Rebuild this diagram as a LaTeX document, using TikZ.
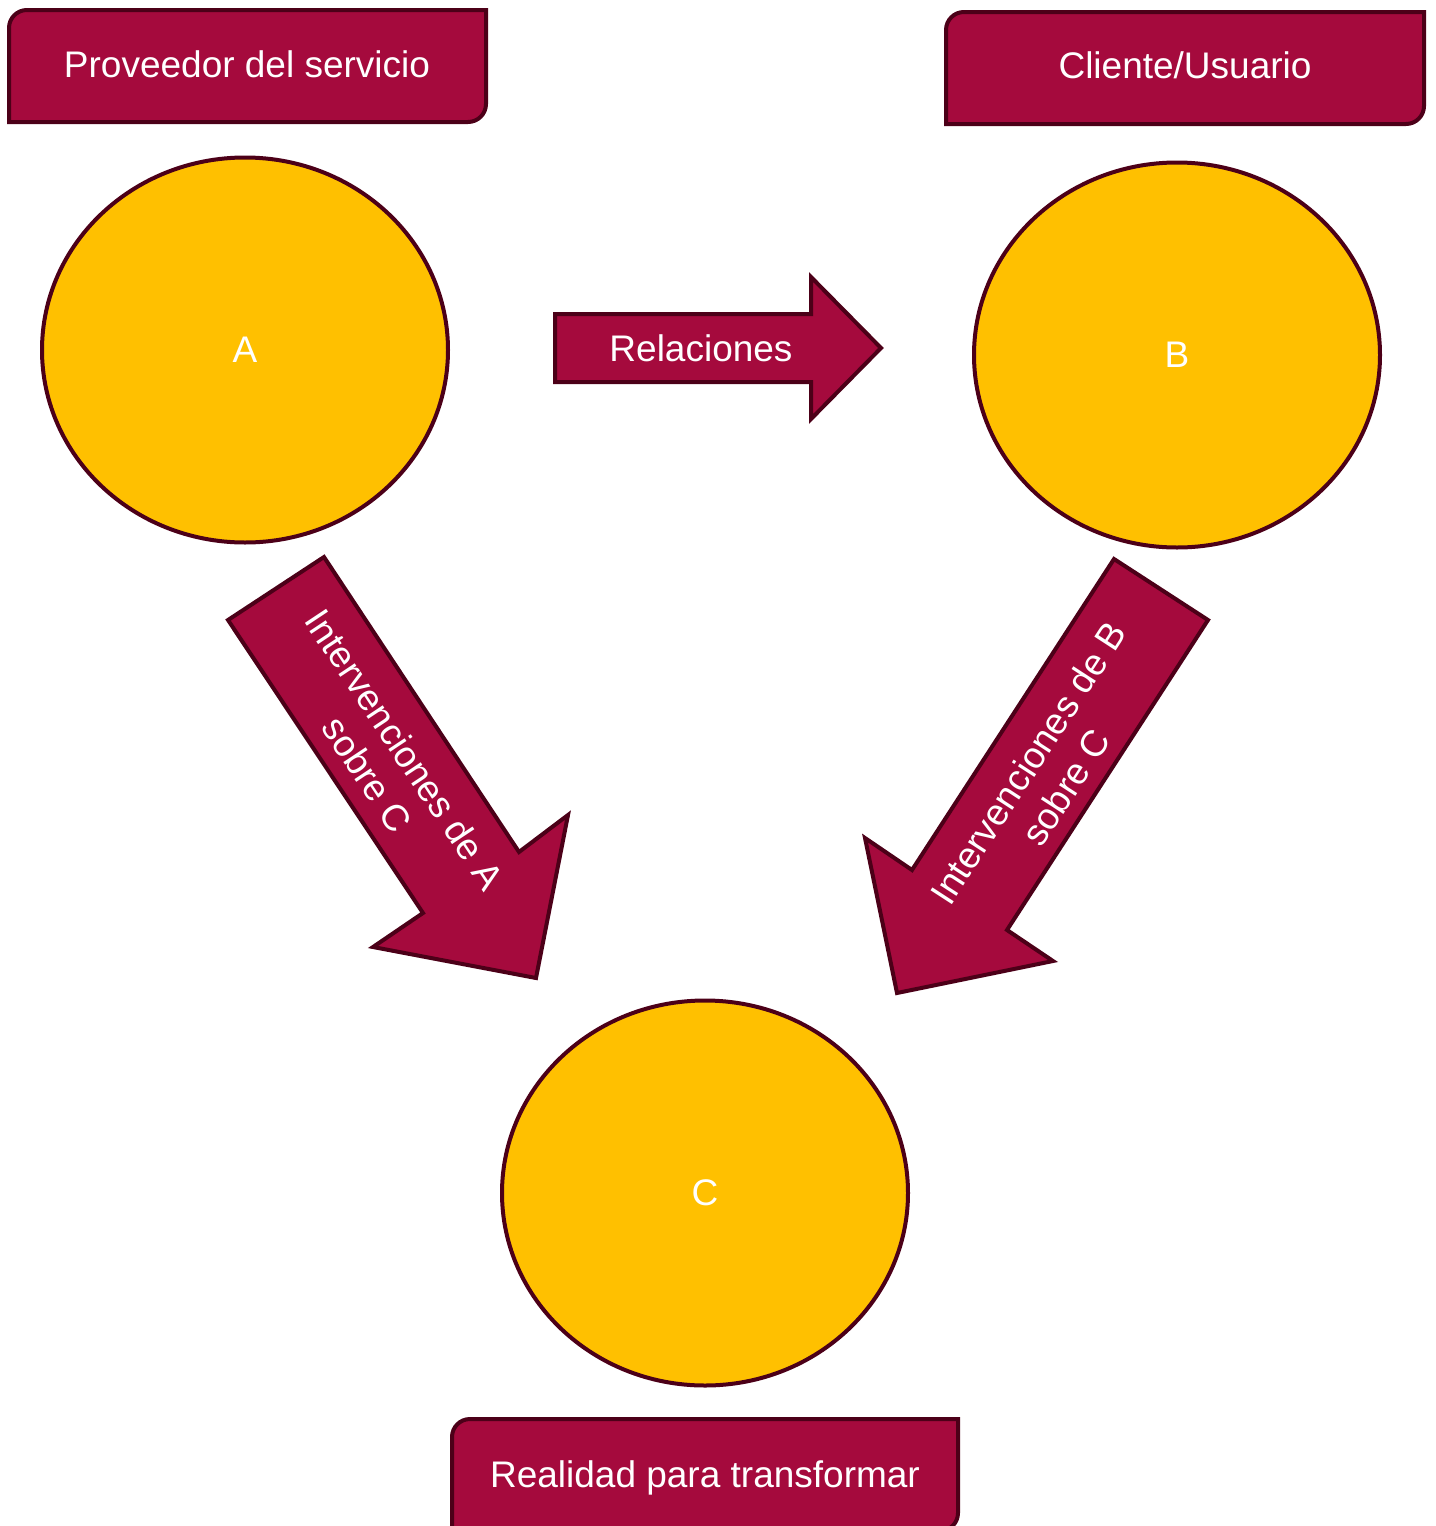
\documentclass[tikz,border=0pt]{standalone}
\usepackage{fontspec}
\setmainfont{Liberation Sans}
\usetikzlibrary{shapes.geometric}
\definecolor{vino}{HTML}{A50A3D}
\definecolor{borde}{HTML}{4C0018}
\definecolor{ambar}{HTML}{FFC000}
\tikzset{
  circulo/.style={ellipse, draw=borde, fill=ambar, line width=4pt,
    minimum width=406pt, minimum height=385pt, inner sep=0pt,
    text=white, font=\fontsize{37}{44}\selectfont},
  caja/.style={draw=borde, fill=vino, line width=4pt, line join=miter},
  rotulo/.style={text=white, font=\fontsize{37}{45}\selectfont,
    align=center, inner sep=0pt},
}
\begin{document}
\begin{tikzpicture}[x=1pt,y=-1pt]
\useasboundingbox (0,0) rectangle (1435,1526);

% etiquetas
\draw[caja] (9,66) [rounded corners=18pt] -- (9,10) [sharp corners] -- (486,10)
  [rounded corners=18pt] -- (486,122) [sharp corners] -- (9,122) -- cycle;
\node[rotulo, anchor=base] (prov) at (247,77) {Proveedor del servicio};
\draw[caja] (946,68) [rounded corners=18pt] -- (946,12) [sharp corners] -- (1424,12)
  [rounded corners=18pt] -- (1424,124) [sharp corners] -- (946,124) -- cycle;
\node[rotulo, anchor=base] (cli) at (1185,78) {Cliente/Usuario};
\draw[caja] (452,1474) [rounded corners=18pt] -- (452,1419) [sharp corners] -- (958,1419)
  [rounded corners=18pt] -- (958,1531) [sharp corners] -- (452,1531) -- cycle;
\node[rotulo, anchor=base] (real) at (705,1487) {Realidad para transformar};

% circulos
\node[circulo] (A) at (245,350) {A};
\node[circulo] (B) at (1177,355) {B};
\node[circulo] (C) at (705,1193) {C};

% flechas
\draw[caja] (555,314) -- (811,314) -- (811,277) -- (881,348) -- (811,419)
  -- (811,382) -- (555,382) -- cycle;
\node[rotulo] (rel) at (701,348) {Relaciones};

\draw[caja] (228,620) -- (324,557) -- (519,852) -- (568,815) -- (536,978)
  -- (373,947) -- (423,913) -- cycle;
\node[rotulo, rotate=-56.4] (intA) at (386,762) {Intervenciones de A\\sobre C};

\draw[caja] (1114,559) -- (1208,620) -- (1007,930) -- (1053,961) -- (897,993)
  -- (865,838) -- (912,870) -- cycle;
\node[rotulo, rotate=57] (intB) at (1047,775) {Intervenciones de B\\sobre C};
\end{tikzpicture}
\end{document}
